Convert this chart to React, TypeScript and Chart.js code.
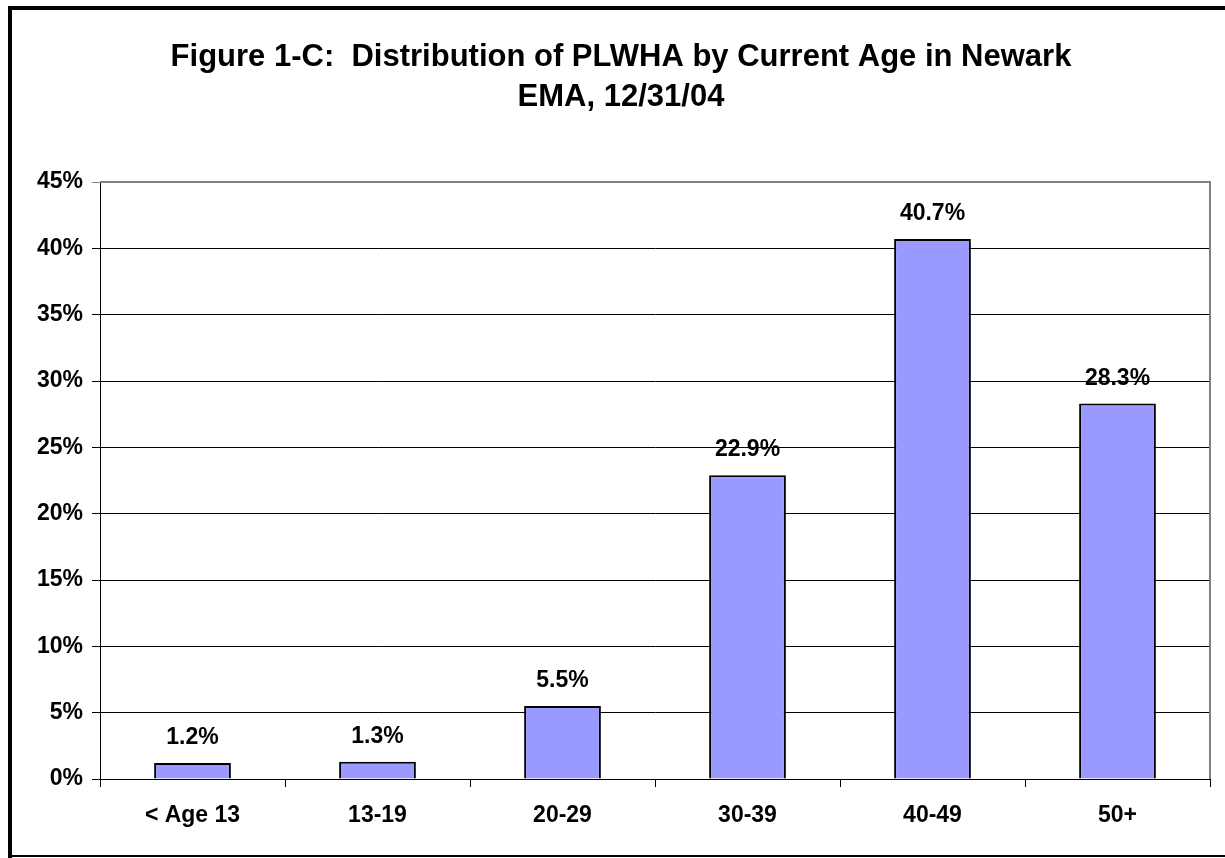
import React, { useEffect, useRef } from "react";
import { Chart, registerables } from "chart.js";

Chart.register(...registerables);

const categories = ["< Age 13", "13-19", "20-29", "30-39", "40-49", "50+"];
const values = [1.2, 1.3, 5.5, 22.9, 40.7, 28.3];
const valueLabels = ["1.2%", "1.3%", "5.5%", "22.9%", "40.7%", "28.3%"];
const titleLines = ["Figure 1-C:  Distribution of PLWHA by Current Age in Newark", "EMA, 12/31/04"];
const yMin = 0;
const yMax = 45;
const yStep = 5;

const FONT = "'Liberation Sans', Arial, Helvetica, sans-serif";

const framePlugin = {
  id: "frame",
  beforeDraw(chart: any) {
    const ctx = chart.ctx;
    ctx.save();
    ctx.fillStyle = "#ffffff";
    ctx.fillRect(0, 0, chart.width, chart.height);
    ctx.fillStyle = "#000000";
    ctx.fillRect(8, 6, 4, 852);
    ctx.fillRect(8, 6, 1217, 4);
    ctx.fillRect(8, 855, 1217, 2);
    ctx.font = `bold 31px ${FONT}`;
    ctx.textAlign = "center";
    ctx.textBaseline = "alphabetic";
    ctx.fillText(titleLines[0], 621, 66);
    ctx.fillText(titleLines[1], 621, 106);
    ctx.restore();
  },
  afterDraw(chart: any) {
    const { ctx, chartArea } = chart;
    ctx.save();
    ctx.strokeStyle = "#808080";
    ctx.lineWidth = 2;
    ctx.beginPath();
    ctx.moveTo(chartArea.left, chartArea.top);
    ctx.lineTo(chartArea.right, chartArea.top);
    ctx.lineTo(chartArea.right, chartArea.bottom);
    ctx.stroke();
    ctx.restore();
  },
  afterDatasetsDraw(chart: any) {
    const ctx = chart.ctx;
    const meta = chart.getDatasetMeta(0);
    ctx.save();
    ctx.font = `bold 23px ${FONT}`;
    ctx.fillStyle = "#000000";
    ctx.textAlign = "center";
    ctx.textBaseline = "alphabetic";
    meta.data.forEach((bar: any, i: number) => {
      ctx.fillText(valueLabels[i], bar.x, bar.y - 19);
    });
    ctx.restore();
  },
};

export default function App() {
  const ref = useRef<HTMLCanvasElement>(null);
  useEffect(() => {
    if (!ref.current) return;
    const chart = new Chart(ref.current, {
      type: "bar",
      data: {
        labels: categories,
        datasets: [
          {
            data: values,
            backgroundColor: "#9999FF",
            borderColor: "#000000",
            borderWidth: 2,
            categoryPercentage: 1,
            barPercentage: 0.415,
          },
        ],
      },
      options: {
        animation: false,
        responsive: false,
        maintainAspectRatio: false,
        layout: { padding: { left: 0, right: 15, top: 182, bottom: 19 } },
        plugins: {
          legend: { display: false },
          title: { display: false },
          tooltip: { enabled: false },
        },
        scales: {
          x: {
            offset: true,
            grid: {
              drawOnChartArea: false,
              drawTicks: true,
              tickLength: 8,
              color: "#000000",
              offset: true,
            },
            border: { display: true, color: "#000000", width: 1 },
            ticks: {
              color: "#000000",
              font: { family: FONT, size: 23, weight: "bold" },
              padding: 15,
              maxRotation: 0,
            },
            afterFit(scale: any) {
              scale.height = 60;
            },
          },
          y: {
            min: yMin,
            max: yMax,
            grid: {
              color: (c: any) => (c.tick && c.tick.value === yMax ? "#808080" : "#000000"),
              tickLength: 8,
              lineWidth: 1,
            },
            border: { display: true, color: "#000000", width: 1 },
            ticks: {
              stepSize: yStep,
              color: "#000000",
              padding: 9,
              font: { family: FONT, size: 23, weight: "bold" },
              callback: (v: any) => `${v}%`,
            },
            afterFit(scale: any) {
              scale.width = 100;
            },
          },
        },
      },
      plugins: [framePlugin],
    });
    return () => chart.destroy();
  }, []);
  return (
    <div style={{ position: "absolute", left: 0, top: 0, width: 1225, height: 858 }}>
      <canvas ref={ref} width={1225} height={858} style={{ width: 1225, height: 858, display: "block" }} />
    </div>
  );
}
